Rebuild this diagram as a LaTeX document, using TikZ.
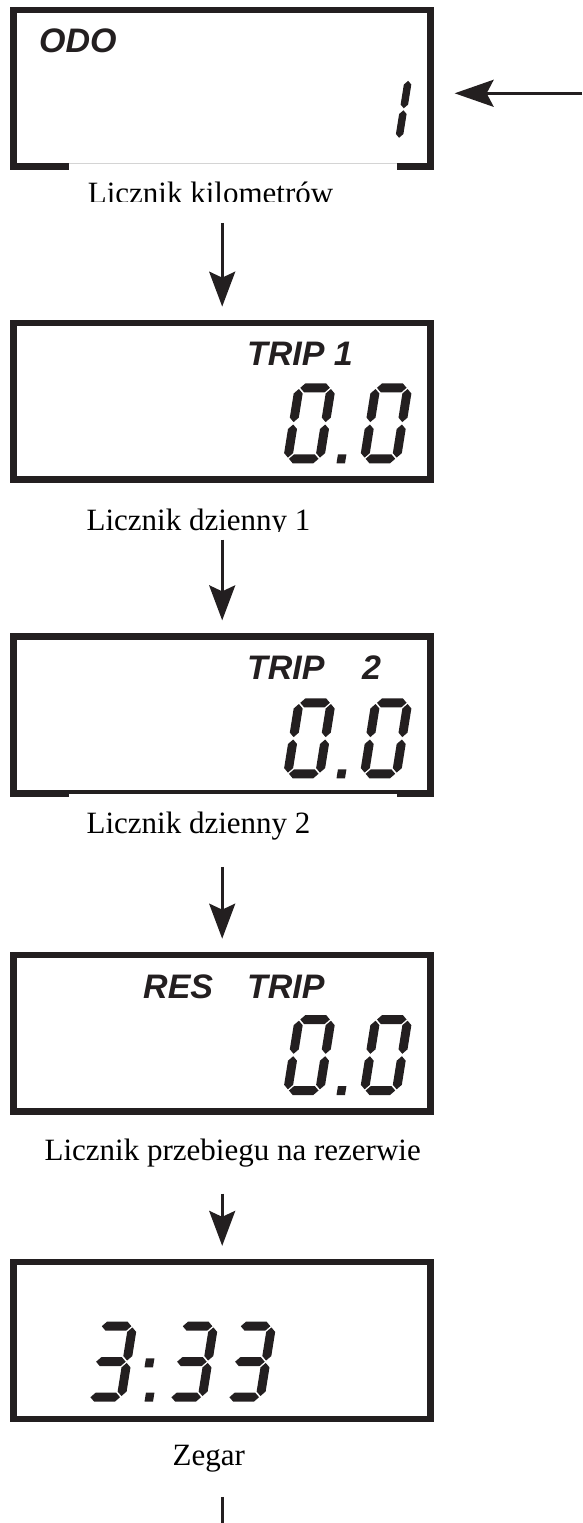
\documentclass[tikz,border=0pt]{standalone}
\usepackage{fontspec}
\setmainfont{Liberation Serif}
\setsansfont{Liberation Sans}
\usetikzlibrary{arrows.meta}
\definecolor{Ink}{HTML}{231F20}
\definecolor{Seam}{HTML}{D4D4D4}
\newcommand{\segt}{9}
\newcommand{\segg}{1.2}
\newcommand{\hseg}[3]{\fill[Ink] (#1+\segg,#3) -- (#1+\segg+\segt/2,#3+\segt/2) -- (#2-\segg-\segt/2,#3+\segt/2) -- (#2-\segg,#3) -- (#2-\segg-\segt/2,#3-\segt/2) -- (#1+\segg+\segt/2,#3-\segt/2) -- cycle;}
\newcommand{\vseg}[3]{\fill[Ink] (#1,#2+\segg) -- (#1+\segt/2,#2+\segg+\segt/2) -- (#1+\segt/2,#3-\segg-\segt/2) -- (#1,#3-\segg) -- (#1-\segt/2,#3-\segg-\segt/2) -- (#1-\segt/2,#2+\segg+\segt/2) -- cycle;}
\newcommand{\lcdsega}{\hseg{4.5}{36.5}{75.5}}
\newcommand{\lcdsegb}{\vseg{36.5}{40}{75.5}}
\newcommand{\lcdsegc}{\vseg{36.5}{4.5}{40}}
\newcommand{\lcdsegd}{\hseg{4.5}{36.5}{4.5}}
\newcommand{\lcdsege}{\vseg{4.5}{4.5}{40}}
\newcommand{\lcdsegf}{\vseg{4.5}{40}{75.5}}
\newcommand{\lcdsegg}{\hseg{4.5}{36.5}{40}}
\newcommand{\lcddigit}[4][]{\begin{scope}[shift={(#2,#3)},x=1pt,y=1pt,xslant=.16,#1]\foreach \s in {#4}{\csname lcdseg\s\endcsname}\end{scope}}
\newcommand{\lcddot}[2]{\begin{scope}[shift={(#1,#2)},x=1pt,y=1pt,xslant=.16]\fill[Ink] (0,0) rectangle (8.5,9);\end{scope}}
\tikzset{lcd/.style={draw=Ink,line width=6.5pt,minimum width=417pt,minimum height=156.8pt,inner sep=0pt},caption/.style={font=\fontsize{31}{36}\selectfont,inner sep=0pt,anchor=base,text depth=7pt},tag/.style={font=\sffamily\bfseries\itshape\fontsize{34}{38}\selectfont,text=Ink,inner sep=0pt,anchor=base west},flow/.style={-{Stealth[length=35pt,width=26pt,inset=6pt]},line width=2.6pt,draw=Ink,shorten >=13pt}}

\begin{document}
\begin{tikzpicture}[x=1pt,y=-1pt]
      \useasboundingbox (0,0) rectangle (582,1523);
      \node[lcd](odo) at (222.2,88.3){};
      \node[lcd](trip1) at (222.2,401.3){};
      \node[lcd](trip2) at (222.2,715){};
      \node[lcd](res) at (222.2,1033.3){};
      \node[lcd](clock) at (222.2,1340.5){};
      \fill[white] (68.7,163.3) rectangle (397,175);\draw[Seam,line width=.6pt] (68.7,163.3) -- (397,163.3);
      \fill[white] (68.7,794.3) rectangle (397,798);
      \node[tag](odotxt) at (39,52){ODO};
      \node[tag](trip1txt) at (246.8,365){TRIP 1};
      \node[tag](trip2txt) at (246.8,679){TRIP};
      \node[tag](trip2no) at (362,679){2};
      \node[tag](restxt) at (143,998){RES};
      \node[tag](restrip) at (246.8,998){TRIP};
      \lcddigit[scale=.83]{368}{142.5}{b,c}
      \foreach \y in {463.3,778.3,1095}{\lcddigit{282.5}{\y}{a,b,c,d,e,f}\lcddot{336.5}{\y}\lcddigit{359.2}{\y}{a,b,c,d,e,f}}
      \foreach \x in {84,165,223}{\lcddigit{\x}{1401.7}{a,b,c,d,g}}
      \lcddot{144.5}{1401.7}\lcddot{144.5}{1367.3}
      \node[caption](lodo) at (210.5,203){Licznik kilometrów};
      \fill[white] (80,201.5) rectangle (345,214);
      \node[caption](ltrip1) at (198.5,530){Licznik dzienny 1};
      \fill[white] (80,531.5) rectangle (320,538.5);
      \node[caption](ltrip2) at (198.5,833.3){Licznik dzienny 2};
      \node[caption](lres) at (232.7,1160){Licznik przebiegu na rezerwie};
      \node[caption](lclock) at (208.8,1465){Zegar};
      \coordinate(feed) at (582,93.3);
      \coordinate(next) at (222.7,1523);
      \draw[flow,-{Stealth[length=39pt,width=27pt,inset=7pt]},shorten >=20.7pt](feed)--(feed -| odo.east);
      \draw[flow,shorten <=12.7pt](lodo.south -| trip1.north)--(trip1.north);
      \draw[flow,shorten <=2.3pt](ltrip1.south -| trip2.north)--(trip2.north);
      \draw[flow,shorten <=26.4pt](ltrip2.south -| res.north)--(res.north);
      \draw[flow,shorten <=26.3pt](lres.south -| clock.north)--(clock.north);
      \draw[Ink,line width=2.6pt,shorten <=24.7pt](lclock.south -| next)--(next);
    \end{tikzpicture}
\end{document}
